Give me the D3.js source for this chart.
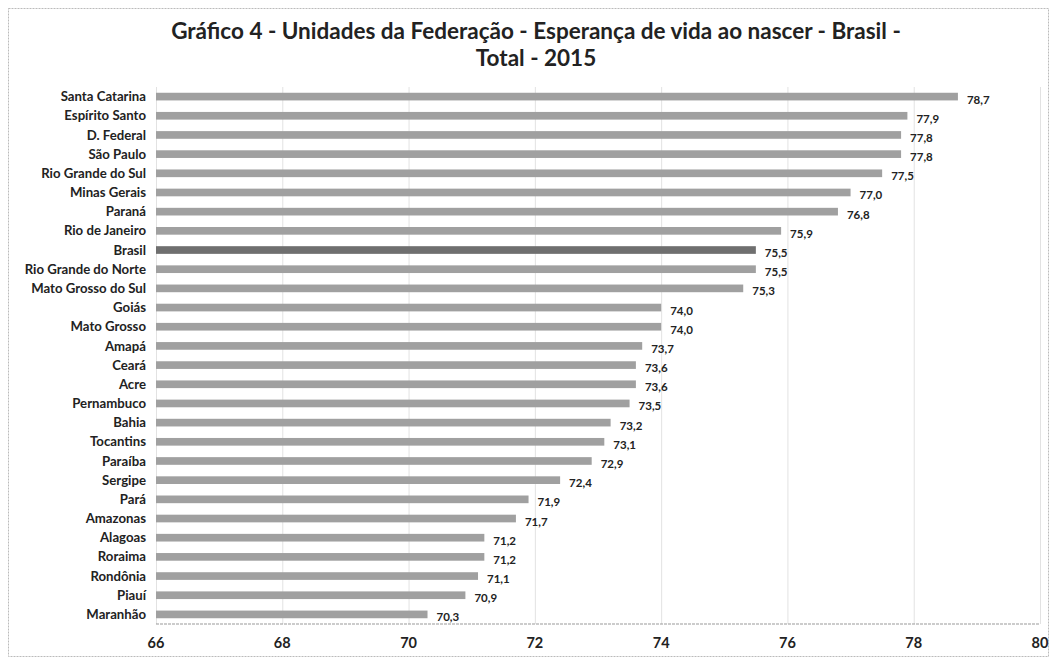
<!DOCTYPE html>
<html>
<head>
<meta charset="utf-8">
<script src="https://cdn.jsdelivr.net/npm/d3@7"></script>
<style>
  body { margin: 0; background: #fff; }
  svg { font-family: Lato, "Open Sans", sans-serif; }
  .grid line { stroke: #e2e2e2; }
  .grid .domain { display: none; }
</style>
</head>
<body>
<svg width="1056" height="667"></svg>
<script>
const categories = ["Santa Catarina", "Espírito Santo", "D. Federal", "São Paulo", "Rio Grande do Sul",
  "Minas Gerais", "Paraná", "Rio de Janeiro", "Brasil", "Rio Grande do Norte", "Mato Grosso do Sul",
  "Goiás", "Mato Grosso", "Amapá", "Ceará", "Acre", "Pernambuco", "Bahia", "Tocantins", "Paraíba",
  "Sergipe", "Pará", "Amazonas", "Alagoas", "Roraima", "Rondônia", "Piauí", "Maranhão"];
const values = [78.7, 77.9, 77.8, 77.8, 77.5, 77.0, 76.8, 75.9, 75.5, 75.5, 75.3,
  74.0, 74.0, 73.7, 73.6, 73.6, 73.5, 73.2, 73.1, 72.9,
  72.4, 71.9, 71.7, 71.2, 71.2, 71.1, 70.9, 70.3];
const xTicks = [66, 68, 70, 72, 74, 76, 78, 80];
const titleLines = ["Gráfico 4 - Unidades da Federação - Esperança de vida ao nascer - Brasil -", "Total - 2015"];

const data = categories.map((c, i) => ({name: c, value: values[i]}));

const margin = {top: 87, right: 16, bottom: 44, left: 156},
    width = 1056 - margin.left - margin.right,
    height = 667 - margin.top - margin.bottom;

const br = d3.formatLocale({decimal: ",", thousands: ".", grouping: [3], currency: ["R$", ""]});
const fmt = br.format(".1f");

const svg = d3.select("svg");

// moldura
svg.append("rect")
    .attr("x", 8.5).attr("y", 8.5)
    .attr("width", 1040).attr("height", 648)
    .attr("fill", "none")
    .attr("stroke", "#bbb")
    .attr("stroke-dasharray", "2,1");

svg.selectAll(".title")
    .data(titleLines)
    .enter()
    .append("text")
    .attr("class", "title")
    .attr("x", 536)
    .attr("y", (d, i) => 39 + i * 27)
    .attr("text-anchor", "middle")
    .attr("font-size", 22.5)
    .attr("font-weight", "bold")
    .attr("fill", "#222")
    .text(d => d);

const g = svg.append("g")
    .attr("transform", `translate(${margin.left},${margin.top})`);

const x = d3.scaleLinear().domain([66, 80]).range([0, 884]);
const y = d3.scaleBand().domain(categories).range([0, 537]).paddingInner(0.6).paddingOuter(0.3);

g.append("g")
    .attr("class", "grid")
    .call(d3.axisBottom(x).tickValues(xTicks).tickSize(537).tickFormat(""));

g.selectAll(".bar")
    .data(data)
    .enter()
    .append("rect")
    .attr("class", "bar")
    .attr("x", 0)
    .attr("y", d => y(d.name))
    .attr("width", d => x(d.value))
    .attr("height", y.bandwidth())
    .attr("fill", d => d.name === "Brasil" ? "#6f6f6f" : "#a0a0a0");

g.selectAll(".val")
    .data(data)
    .enter()
    .append("text")
    .attr("class", "val")
    .attr("x", d => x(d.value) + 9)
    .attr("y", d => y(d.name) + y.bandwidth() / 2 + 7)
    .attr("font-size", 11.5)
    .attr("font-weight", "bold")
    .attr("fill", "#222")
    .text(d => fmt(d.value));

g.selectAll(".cat")
    .data(data)
    .enter()
    .append("text")
    .attr("class", "cat")
    .attr("x", -10)
    .attr("y", d => y(d.name) + y.bandwidth() / 2)
    .attr("dy", "0.35em")
    .attr("text-anchor", "end")
    .attr("font-size", 13.2)
    .attr("font-weight", "bold")
    .attr("fill", "#222")
    .text(d => d.name);

// eixo
g.append("line")
    .attr("x1", 0).attr("x2", 884)
    .attr("y1", 537).attr("y2", 537)
    .attr("stroke", "#999")
    .attr("stroke-dasharray", "3,1");

g.selectAll(".tick-label")
    .data(xTicks)
    .enter()
    .append("text")
    .attr("class", "tick-label")
    .attr("x", d => x(d))
    .attr("y", 561)
    .attr("text-anchor", "middle")
    .attr("font-size", 14.5)
    .attr("font-weight", "bold")
    .attr("fill", "#222")
    .text(d => d);
</script>
</body>
</html>
